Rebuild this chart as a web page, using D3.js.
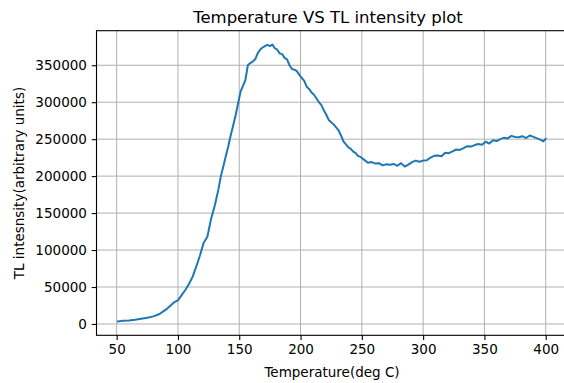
<!DOCTYPE html>
<html>
<head>
<meta charset="utf-8">
<script src="https://cdn.jsdelivr.net/npm/d3@7"></script>
<style>
html,body{margin:0;padding:0;background:#fff;overflow:hidden;}
svg{display:block;font-family:"DejaVu Sans",sans-serif;}
</style>
</head>
<body>
<svg id="chart" width="564" height="383"></svg>
<script>
const titleText = "Temperature VS TL intensity plot";
const xLabel = "Temperature(deg C)";
const yLabel = "TL intesnsity(arbitrary units)";
const xTicks = [50,100,150,200,250,300,350,400];
const yTicks = [0,50000,100000,150000,200000,250000,300000,350000];
const temperature = [51,55,60,65,70,75,80,85,88,91,94,97,100,103,106,109,112,115,118,121,124,127,130,133,135,137,139,141,143,145,147,149,151,153,155,157,159,161,163,165,167,169,171,173,175,177,179,181,183,185,187,189,191,193,195,197,199,201,203,205,207,209,211,213,215,217,219,221,223,225,227,229,231,233,235,237,239,241,243,245,247,249,252,255,258,261,264,267,270,273,276,279,282,285,288,291,294,297,300,303,306,309,312,315,318,321,324,327,330,333,336,339,342,345,348,351,354,357,360,363,366,369,372,375,378,381,384,387,390,393,396,398,400];
const intensity = [3400,4200,4800,5600,7000,8400,10300,13500,17000,20500,25000,29500,32000,39000,46000,54000,64000,78000,93000,110000,118000,142000,160000,182000,200000,213000,227000,240000,255000,268000,282000,298000,314000,322000,330000,350000,353000,355000,358000,366000,371000,374000,376000,377500,376000,378000,373000,371000,366000,365000,360000,358000,350000,345000,344000,342000,337000,333000,329000,321000,318000,313000,310000,305000,300000,296000,289000,283000,276000,273000,270000,266000,262000,255000,247000,243000,239000,237000,233000,231000,227000,226000,222000,218000,219000,217000,217500,214500,216000,215500,216500,214000,217500,213000,215500,219000,221000,219500,221000,221500,225000,227500,228000,227000,231500,231000,233500,236000,235500,238000,240500,240000,242000,243500,242500,246500,244000,248500,247500,250000,252000,251000,254500,253000,252500,254000,251500,255000,253000,251000,249000,247000,250500];

const svg = d3.select("#chart");
const m = {left:96.5, top:30.7, right:567.1, bottom:335.3};
const W = m.right - m.left, H = m.bottom - m.top;

const xe = d3.extent(temperature), ye = d3.extent(intensity);
const xp = (xe[1]-xe[0])*0.05, yp = (ye[1]-ye[0])*0.05;
const x = d3.scaleLinear().domain([xe[0]-xp, xe[1]+xp]).range([m.left, m.right]);
const y = d3.scaleLinear().domain([ye[0]-yp, ye[1]+yp]).range([m.bottom, m.top]);

const g = svg.append("g");
// grid
g.selectAll(".gx").data(xTicks).enter().append("line")
  .attr("x1", d=>x(d)).attr("x2", d=>x(d)).attr("y1", m.top).attr("y2", m.bottom)
  .attr("stroke", "#b0b0b0").attr("stroke-width", 1);
g.selectAll(".gy").data(yTicks).enter().append("line")
  .attr("y1", d=>y(d)).attr("y2", d=>y(d)).attr("x1", m.left).attr("x2", m.right)
  .attr("stroke", "#b0b0b0").attr("stroke-width", 1);

// line
const line = d3.line().x((d,i)=>x(temperature[i])).y(d=>y(d));
svg.append("path").datum(intensity).attr("d", line)
  .attr("fill","none").attr("stroke","#1f77b4").attr("stroke-width",2)
  .attr("stroke-linejoin","round").attr("stroke-linecap","square");

// axes
const xAxis = d3.axisBottom(x).tickValues(xTicks).tickSize(4.8).tickPadding(4.8).tickFormat(d3.format("d"));
const yAxis = d3.axisLeft(y).tickValues(yTicks).tickSize(4.8).tickPadding(4.8).tickFormat(d3.format("d"));
const gx = svg.append("g").attr("transform", `translate(0,${m.bottom})`).call(xAxis);
const gy = svg.append("g").attr("transform", `translate(${m.left},0)`).call(yAxis);
[gx, gy].forEach(a => {
  a.select(".domain").remove();
  a.selectAll("text").attr("font-size", 13.5).attr("font-family", "DejaVu Sans").attr("fill","#000");
  a.selectAll("line").attr("stroke","#000").attr("stroke-width",1.1);
});

// frame
svg.append("rect").attr("x", m.left).attr("y", m.top).attr("width", W).attr("height", H)
  .attr("fill","none").attr("stroke","#000").attr("stroke-width",1.1);

svg.append("text").attr("x", 328).attr("y", 23).attr("text-anchor","middle")
  .attr("font-size", 16.5).text(titleText);
svg.append("text").attr("x", 332).attr("y", 377).attr("text-anchor","middle")
  .attr("font-size", 13.5).text(xLabel);
svg.append("text").attr("transform", `translate(24,${(m.top+m.bottom)/2}) rotate(-90)`)
  .attr("text-anchor","middle").attr("font-size", 13.5).text(yLabel);
</script>
</body>
</html>
